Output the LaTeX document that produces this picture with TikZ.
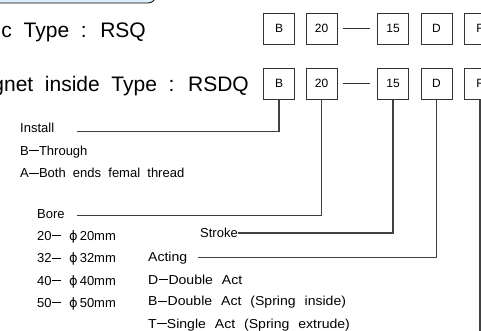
\documentclass[tikz,border=0pt]{standalone}
\usepackage{fontspec}
\setmainfont{Liberation Sans}
\newfontfamily\lblfont[WordSpace=2.8]{Liberation Sans}
\newfontfamily\actfont[WordSpace=2.3, FakeStretch=1.08]{Liberation Sans}
\newfontfamily\ttlfont[WordSpace=2.0]{Liberation Sans}
\newfontfamily\symfont{DejaVu Sans}
\usepackage{tikz}
\usetikzlibrary{positioning}
\usepackage{xcolor}
\definecolor{bannerblue}{RGB}{222,238,250}

\tikzset{
  codebox/.style={draw=black!80, line width=0.8pt, minimum width=31pt, minimum height=31pt, inner sep=0pt, font=\fontsize{12}{14}\selectfont},
  lbl/.style={anchor=base west, inner sep=0pt, font=\lblfont\fontsize{13}{15}\selectfont},
  actlbl/.style={lbl, font=\actfont\fontsize{13}{15}\selectfont},
  ttl/.style={anchor=base east, inner sep=0pt, font=\ttlfont\fontsize{21}{24}\selectfont},
  leader/.style={draw=black!75, line width=1.1pt},
}
\newcommand{\dia}{{\symfont\char"03D5}}
\newcommand{\dsh}{\kern0.4pt\rule[0.27em]{0.72em}{0.08em}\kern0.4pt}

\begin{document}
\begin{tikzpicture}[x=1pt, y=-1pt]
    \useasboundingbox (0,0) rectangle (481,331);
    \clip (0,0) rectangle (481,331);
    % banner at top
    \draw[black, line width=0.8pt, fill=bannerblue, rounded corners=8pt] (-20,-30) rectangle (156,3);
    % titles
    \node[ttl] (basic) at (146,37.5) {c Type : RSQ};
    \node[ttl] (magnet) at (249,91.5) {gnet inside Type : RSDQ};
    % code boxes
    \node[codebox] (aB) at (279,28.5) {B};
    \node[codebox] (a20) at (321.5,28.5) {20};
    \node[codebox] (a15) at (393,28.5) {15};
    \node[codebox] (aD) at (436.5,28.5) {D};
    \node[codebox] (aF) at (480,28.5) {F};
    \node[codebox] (bB) at (279,83.5) {B};
    \node[codebox] (b20) at (321.5,83.5) {20};
    \node[codebox] (b15) at (393,83.5) {15};
    \node[codebox] (bD) at (436.5,83.5) {D};
    \node[codebox] (bF) at (480,83.5) {F};
    \draw[black!80, line width=0.8pt] ([xshift=6pt]a20.east) -- ([xshift=-7pt]a15.west);
    \draw[black!80, line width=0.8pt] ([xshift=6pt]b20.east) -- ([xshift=-7pt]b15.west);
    % install
    \node[lbl] (install) at (20,133) {Install};
    \node[lbl] (through) at (20,155) {B\dsh Through};
    \node[lbl] (female) at (20,177.5) {A\dsh Both ends femal thread};
    % bore
    \node[lbl] (bore) at (37,218.5) {Bore};
    \node[lbl] (d20) at (37,240) {20\dsh\ \dia\,20mm};
    \node[lbl] (d32) at (37,262.5) {32\dsh\ \dia\,32mm};
    \node[lbl] (d40) at (37,285) {40\dsh\ \dia\,40mm};
    \node[lbl] (d50) at (37,307) {50\dsh\ \dia\,50mm};
    % stroke
    \node[lbl, anchor=west] (stroke) at (200,233) {Stroke};
    % acting
    \node[actlbl] (acting) at (148,261) {Acting};
    \node[actlbl] (dbl) at (148,284) {D\dsh Double Act};
    \node[actlbl] (dblspring) at (148,305.5) {B\dsh Double Act (Spring inside)};
    \node[actlbl] (sgl) at (148,328) {T\dsh Single Act (Spring extrude)};
    % leader lines
    \coordinate (installEnd) at (77,131.7);
    \coordinate (boreEnd) at (77,215.7);
    \coordinate (actingEnd) at (198,257.7);
    \coordinate (fEnd) at (480,340);
    \draw[leader] (bB.south) |- (installEnd);
    \draw[leader] (b20.south) |- (boreEnd);
    \draw[leader] (b15.south) |- (stroke.east);
    \draw[leader] (bD.south) |- (actingEnd);
    \draw[leader] (bF.south) -- (fEnd);
  \end{tikzpicture}
\end{document}
